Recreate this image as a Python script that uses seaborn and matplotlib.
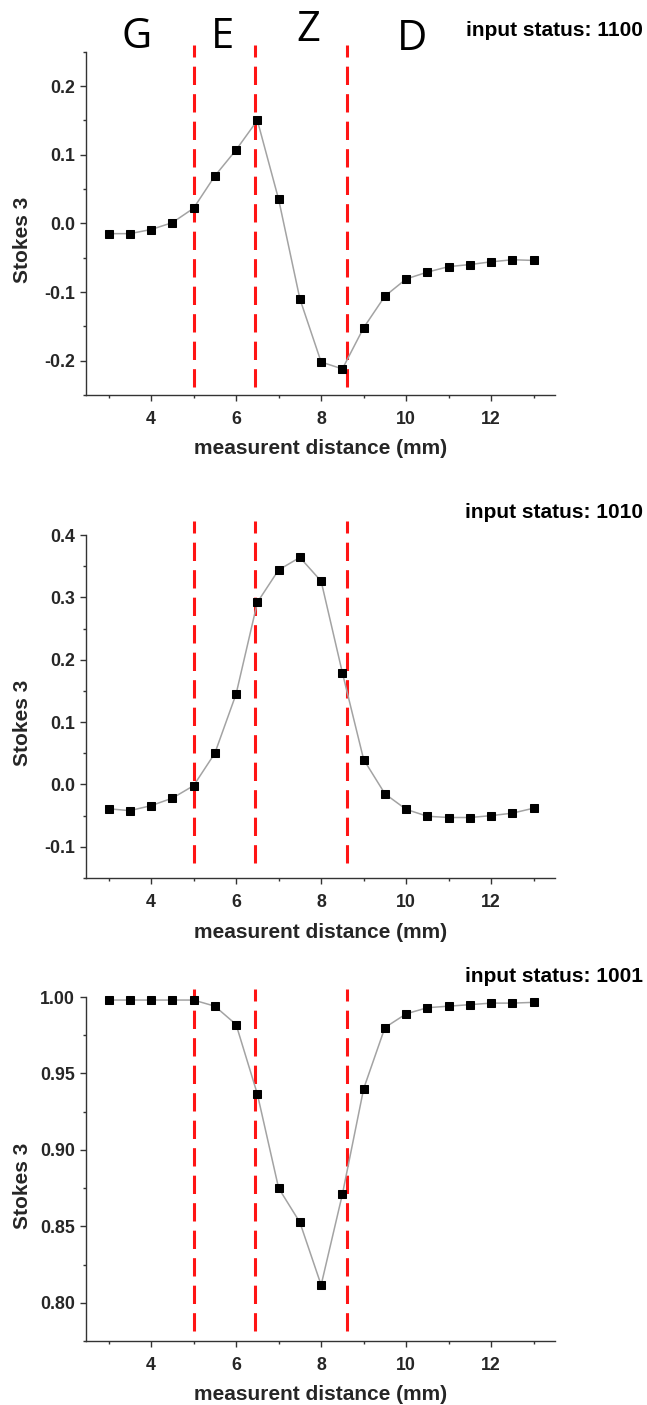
import matplotlib
matplotlib.use("Agg")
import matplotlib.pyplot as plt
import matplotlib.transforms as mtransforms
from matplotlib.ticker import MultipleLocator, FormatStrFormatter
import numpy as np
import pandas as pd
import seaborn as sns

# ---------------- data ----------------
distance_mm = [3.0, 3.5, 4.0, 4.5, 5.0, 5.5, 6.0, 6.5, 7.0, 7.5, 8.0,
               8.5, 9.0, 9.5, 10.0, 10.5, 11.0, 11.5, 12.0, 12.5, 13.0]

stokes3_1100 = [-0.015, -0.015, -0.009, 0.001, 0.022, 0.069, 0.107, 0.150,
                0.035, -0.110, -0.202, -0.212, -0.152, -0.106, -0.081,
                -0.071, -0.063, -0.060, -0.056, -0.053, -0.054]

stokes3_1010 = [-0.039, -0.042, -0.034, -0.022, -0.002, 0.050, 0.145, 0.292,
                0.344, 0.364, 0.326, 0.179, 0.040, -0.015, -0.040,
                -0.051, -0.053, -0.053, -0.050, -0.046, -0.038]

stokes3_1001 = [0.998, 0.998, 0.998, 0.998, 0.998, 0.994, 0.982, 0.9365,
                0.875, 0.8526, 0.8116, 0.871, 0.940, 0.980, 0.989,
                0.993, 0.994, 0.995, 0.996, 0.996, 0.9965]

status_labels = ["1100", "1010", "1001"]
boundaries_mm = [5.0, 6.45, 8.6]
region_letters = ["G", "E", "Z", "D"]

# ---------------- style ----------------
sns.set_theme(style="ticks")
plt.rcParams["font.family"] = ["Liberation Sans", "DejaVu Sans"]
plt.rcParams["font.weight"] = "bold"
plt.rcParams["axes.labelweight"] = "bold"

fig = plt.figure(figsize=(6.47, 14.05), dpi=100)
W, H = 647.0, 1405.0
ax_left, ax_right = 86, 555
panels = [
    dict(top=51.7, bottom=395.0, y=stokes3_1100, ylim=(-0.25, 0.25), major=0.1, minor=0.05,
         fmt="%.1f", vtop=45.0, vbot=387.3, status_y=30.0),
    dict(top=535.0, bottom=878.0, y=stokes3_1010, ylim=(-0.15, 0.40), major=0.1, minor=0.05,
         fmt="%.1f", vtop=520.7, vbot=862.7, status_y=513.0),
    dict(top=997.0, bottom=1341.0, y=stokes3_1001, ylim=(0.775, 1.00), major=0.05, minor=0.025,
         fmt="%.2f", vtop=989.3, vbot=1330.7, status_y=977.0),
]

axes = []
for i, p in enumerate(panels):
    h = p["bottom"] - p["top"]
    ax = fig.add_axes([ax_left / W, 1 - p["bottom"] / H, (ax_right - ax_left) / W, h / H])
    axes.append(ax)
    df = pd.DataFrame({"distance": distance_mm, "stokes3": p["y"]})

    # boundary lines
    ymin = (p["bottom"] - p["vbot"]) / h
    ymax = (p["bottom"] - p["vtop"]) / h
    for b in boundaries_mm:
        ax.axvline(b, ymin=ymin, ymax=ymax, color="#ff1414", lw=2.2,
                   ls=(0, (6, 3)), clip_on=False, zorder=2)

    sns.lineplot(data=df, x="distance", y="stokes3", ax=ax, estimator=None, sort=False,
                 color="#a3a3a3", lw=1.1, marker="s", markersize=5.4,
                 markerfacecolor="black", markeredgecolor="black",
                 clip_on=False, zorder=3)

    ax.set_xlim(2.47, 13.5)
    ax.set_ylim(*p["ylim"])
    ax.xaxis.set_major_locator(MultipleLocator(2))
    ax.xaxis.set_minor_locator(MultipleLocator(1))
    ax.yaxis.set_major_locator(MultipleLocator(p["major"]))
    ax.yaxis.set_minor_locator(MultipleLocator(p["minor"]))
    ax.yaxis.set_major_formatter(FormatStrFormatter(p["fmt"]))
    ax.xaxis.set_major_formatter(FormatStrFormatter("%d"))

    sns.despine(ax=ax)
    for s in ("left", "bottom"):
        ax.spines[s].set_linewidth(1.0)
        ax.spines[s].set_color("#333333")
    ax.tick_params(axis="both", which="major", direction="out", length=4.3, width=1.0,
                   color="#333333", labelsize=12.8)
    ax.tick_params(axis="both", which="minor", direction="out", length=2.5, width=1.0,
                   color="#333333")
    ax.tick_params(axis="x", which="major", pad=7.0)
    ax.tick_params(axis="y", which="major", pad=3.5)
    for lab in ax.get_xticklabels() + ax.get_yticklabels():
        lab.set_fontweight("bold")

    ax.set_xlabel("measurent distance (mm)", fontsize=15, fontweight="bold")
    ax.set_ylabel("Stokes 3", fontsize=15, fontweight="bold")
    ax.xaxis.label.set_va("center")
    ax.yaxis.label.set_va("center")
    ax.xaxis.set_label_coords(0.5, -54.0 / h)
    ax.yaxis.set_label_coords(-64.0 / (ax_right - ax_left), 0.452)

    ax.text((643 - ax_left) / (ax_right - ax_left), (p["bottom"] - p["status_y"]) / h,
            "input status: " + status_labels[i], transform=ax.transAxes,
            ha="right", va="center", fontsize=15, fontweight="bold", color="black")

# region letters on the top panel
ax0 = axes[0]
h0 = panels[0]["bottom"] - panels[0]["top"]
trans = mtransforms.blended_transform_factory(ax0.transData, ax0.transAxes)
letter_x = [3.65, 5.69, 7.69, 10.14]
letter_y_px = [36.5, 37.0, 30.0, 39.0]
for t, lx, ly in zip(region_letters, letter_x, letter_y_px):
    ax0.text(lx, (panels[0]["bottom"] - ly) / h0, t, transform=trans,
             ha="center", va="center", fontsize=30, fontweight="normal",
             family=["Open Sans", "DejaVu Sans"], color="black", clip_on=False)

fig.savefig("out.png", dpi=100, facecolor="white")
